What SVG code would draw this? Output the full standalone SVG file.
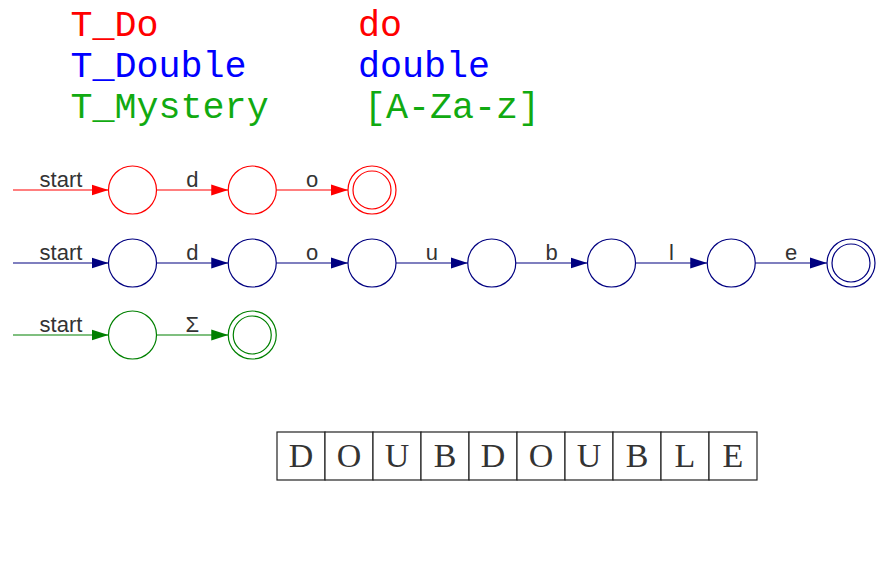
<svg xmlns="http://www.w3.org/2000/svg" width="889" height="563" viewBox="0 0 889 563">
<style>
.hdr{font-family:"Liberation Mono","Courier New",monospace;font-size:36.7px}
.lbl{font-family:"Liberation Sans",Arial,sans-serif;font-size:22px;fill:#333;text-anchor:middle}
.r{stroke:#ff0000;fill:none;stroke-width:1.2}
.b{stroke:#000080;fill:none;stroke-width:1.2}
.g{stroke:#008000;fill:none;stroke-width:1.2}
.cell{fill:#fff;stroke:#222;stroke-width:1.2}
.tl{font-family:"Liberation Serif","Times New Roman",serif;font-size:34px;fill:#333;text-anchor:middle}
</style>
<defs>
<marker id="ar" markerUnits="userSpaceOnUse" markerWidth="18" markerHeight="12" refX="17" refY="6" orient="auto"><path d="M0,0.5 L17,6 L0,11.5 Z" fill="#ff0000"/></marker>
<marker id="ab" markerUnits="userSpaceOnUse" markerWidth="18" markerHeight="12" refX="17" refY="6" orient="auto"><path d="M0,0.5 L17,6 L0,11.5 Z" fill="#000080"/></marker>
<marker id="ag" markerUnits="userSpaceOnUse" markerWidth="18" markerHeight="12" refX="17" refY="6" orient="auto"><path d="M0,0.5 L17,6 L0,11.5 Z" fill="#008000"/></marker>
</defs>
<rect width="889" height="563" fill="#fff"/>

<g id="legend">
<text class="hdr" x="70.5" y="35.8" fill="#ff0000">T_Do</text>
<text class="hdr" x="358" y="35.8" fill="#ff0000">do</text>
<text class="hdr" x="70.5" y="77.2" fill="#0000ff">T_Double</text>
<text class="hdr" x="358" y="77.2" fill="#0000ff">double</text>
<text class="hdr" x="70.5" y="118.4" fill="#11aa11">T_Mystery</text>
<text class="hdr" x="364" y="118.4" fill="#11aa11">[A-Za-z]</text>
</g>

<g id="connectors">
<line class="r" x1="13" y1="190" x2="108.5" y2="190" marker-end="url(#ar)"/>
<line class="r" x1="156.5" y1="190" x2="228.25" y2="190" marker-end="url(#ar)"/>
<line class="r" x1="276.25" y1="190" x2="348" y2="190" marker-end="url(#ar)"/>

<line class="b" x1="13" y1="263" x2="108.5" y2="263" marker-end="url(#ab)"/>
<line class="b" x1="156.5" y1="263" x2="228.25" y2="263" marker-end="url(#ab)"/>
<line class="b" x1="276.25" y1="263" x2="348" y2="263" marker-end="url(#ab)"/>
<line class="b" x1="396" y1="263" x2="467.75" y2="263" marker-end="url(#ab)"/>
<line class="b" x1="515.75" y1="263" x2="587.5" y2="263" marker-end="url(#ab)"/>
<line class="b" x1="635.5" y1="263" x2="707.25" y2="263" marker-end="url(#ab)"/>
<line class="b" x1="755.25" y1="263" x2="827" y2="263" marker-end="url(#ab)"/>

<line class="g" x1="13" y1="335" x2="108.5" y2="335" marker-end="url(#ag)"/>
<line class="g" x1="156.5" y1="335" x2="228.25" y2="335" marker-end="url(#ag)"/>

<text class="lbl" x="61" y="187">start</text>
<text class="lbl" x="192.4" y="187">d</text>
<text class="lbl" x="312.1" y="187">o</text>

<text class="lbl" x="61" y="260">start</text>
<text class="lbl" x="192.4" y="260">d</text>
<text class="lbl" x="312.1" y="260">o</text>
<text class="lbl" x="431.9" y="260">u</text>
<text class="lbl" x="551.6" y="260">b</text>
<text class="lbl" x="671.4" y="260">l</text>
<text class="lbl" x="791.1" y="260">e</text>

<text class="lbl" x="61" y="332">start</text>
<text class="lbl" x="192.4" y="332">Σ</text>
</g>

<g id="do-q0"><circle class="r" cx="132.5" cy="190" r="24"/></g>
<g id="do-q1"><circle class="r" cx="252.25" cy="190" r="24"/></g>
<g id="do-q2"><circle class="r" cx="372" cy="190" r="24"/><circle class="r" cx="372" cy="190" r="19"/></g>

<g id="double-q0"><circle class="b" cx="132.5" cy="263" r="24"/></g>
<g id="double-q1"><circle class="b" cx="252.25" cy="263" r="24"/></g>
<g id="double-q2"><circle class="b" cx="372" cy="263" r="24"/></g>
<g id="double-q3"><circle class="b" cx="491.75" cy="263" r="24"/></g>
<g id="double-q4"><circle class="b" cx="611.5" cy="263" r="24"/></g>
<g id="double-q5"><circle class="b" cx="731.25" cy="263" r="24"/></g>
<g id="double-q6"><circle class="b" cx="851" cy="263" r="24"/><circle class="b" cx="851" cy="263" r="19"/></g>

<g id="mystery-q0"><circle class="g" cx="132.5" cy="335" r="24"/></g>
<g id="mystery-q1"><circle class="g" cx="252.25" cy="335" r="24"/><circle class="g" cx="252.25" cy="335" r="19"/></g>

<g id="tape">
<rect class="cell" x="277" y="432" width="48" height="48"/>
<rect class="cell" x="325" y="432" width="48" height="48"/>
<rect class="cell" x="373" y="432" width="48" height="48"/>
<rect class="cell" x="421" y="432" width="48" height="48"/>
<rect class="cell" x="469" y="432" width="48" height="48"/>
<rect class="cell" x="517" y="432" width="48" height="48"/>
<rect class="cell" x="565" y="432" width="48" height="48"/>
<rect class="cell" x="613" y="432" width="48" height="48"/>
<rect class="cell" x="661" y="432" width="48" height="48"/>
<rect class="cell" x="709" y="432" width="48" height="48"/>
<text class="tl" x="301" y="467">D</text>
<text class="tl" x="349" y="467">O</text>
<text class="tl" x="397" y="467">U</text>
<text class="tl" x="445" y="467">B</text>
<text class="tl" x="493" y="467">D</text>
<text class="tl" x="541" y="467">O</text>
<text class="tl" x="589" y="467">U</text>
<text class="tl" x="637" y="467">B</text>
<text class="tl" x="685" y="467">L</text>
<text class="tl" x="733" y="467">E</text>
</g>
</svg>
